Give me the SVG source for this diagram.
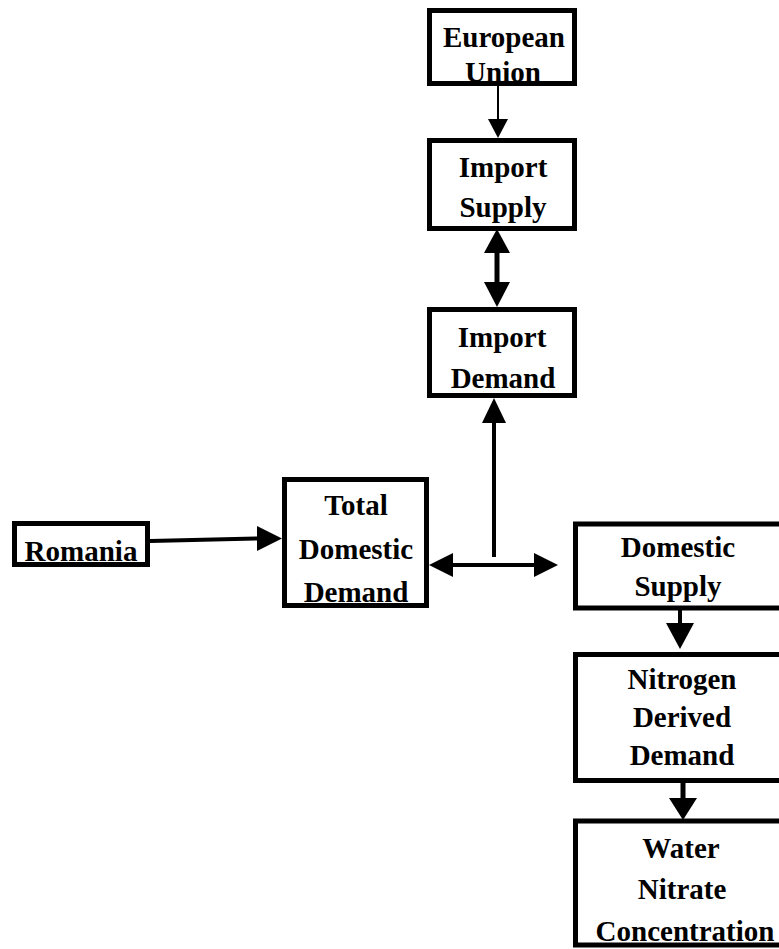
<svg xmlns="http://www.w3.org/2000/svg" width="779" height="949" viewBox="0 0 779 949">
<style>
.box{fill:#fff;stroke:#000;stroke-width:5}
.t{font-family:"Liberation Serif","Times New Roman",serif;font-weight:bold;font-size:29px;fill:#000;text-anchor:middle}
.ln{stroke:#000;fill:none}
.hd{fill:#000;stroke:none}
</style>
<rect width="779" height="949" fill="#fff"/>
<g id="connectors">
<line class="ln" x1="498" y1="86" x2="498" y2="122" stroke-width="2"/>
<polygon class="hd" points="488,119 508,119 498,138"/>
<line class="ln" x1="497" y1="250" x2="497" y2="285" stroke-width="5"/>
<polygon class="hd" points="484,253 510,253 497,229"/>
<polygon class="hd" points="484,282 510,282 497,307"/>
<line class="ln" x1="494" y1="557" x2="494" y2="420" stroke-width="4"/>
<polygon class="hd" points="482,423 506,423 494,398"/>
<line class="ln" x1="452" y1="565" x2="537" y2="565" stroke-width="4"/>
<polygon class="hd" points="453,553 453,577 429,565"/>
<polygon class="hd" points="534,553 534,577 558,565"/>
<line class="ln" x1="150" y1="541" x2="259" y2="538.5" stroke-width="4"/>
<polygon class="hd" points="257,526 257,551 282,538.5"/>
<line class="ln" x1="680" y1="610" x2="680" y2="625" stroke-width="4"/>
<polygon class="hd" points="666,623 694,623 680,649"/>
<line class="ln" x1="683" y1="783" x2="683" y2="800" stroke-width="5"/>
<polygon class="hd" points="669,798 697,798 683,820"/>
</g>
<g id="european-union">
<rect class="box" x="429.5" y="10.5" width="145" height="73"/>
<text class="t" x="504" y="47">European</text>
<text class="t" x="503" y="82">Union</text>
</g>
<g id="import-supply">
<rect class="box" x="429.5" y="140.5" width="145" height="88"/>
<text class="t" x="503" y="177">Import</text>
<text class="t" x="503" y="217">Supply</text>
</g>
<g id="import-demand">
<rect class="box" x="429.5" y="309.5" width="145" height="86"/>
<text class="t" x="502" y="347">Import</text>
<text class="t" x="503" y="388">Demand</text>
</g>
<g id="romania">
<rect class="box" x="14.5" y="523.5" width="133" height="41"/>
<text class="t" x="81" y="561">Romania</text>
</g>
<g id="total-domestic-demand">
<rect class="box" x="284.5" y="479.5" width="142" height="126"/>
<text class="t" x="356" y="515">Total</text>
<text class="t" x="356" y="559">Domestic</text>
<text class="t" x="356" y="602">Demand</text>
</g>
<g id="domestic-supply">
<rect class="box" x="575.5" y="524" width="210" height="84"/>
<text class="t" x="678" y="557">Domestic</text>
<text class="t" x="678" y="596">Supply</text>
</g>
<g id="nitrogen-derived-demand">
<rect class="box" x="575.5" y="654.5" width="210" height="126"/>
<text class="t" x="682" y="689">Nitrogen</text>
<text class="t" x="682" y="727">Derived</text>
<text class="t" x="682" y="765">Demand</text>
</g>
<g id="water-nitrate-concentration">
<rect class="box" x="575.5" y="821" width="210" height="124"/>
<text class="t" x="681" y="858">Water</text>
<text class="t" x="682" y="899">Nitrate</text>
<text class="t" x="685" y="941">Concentration</text>
</g>
</svg>
